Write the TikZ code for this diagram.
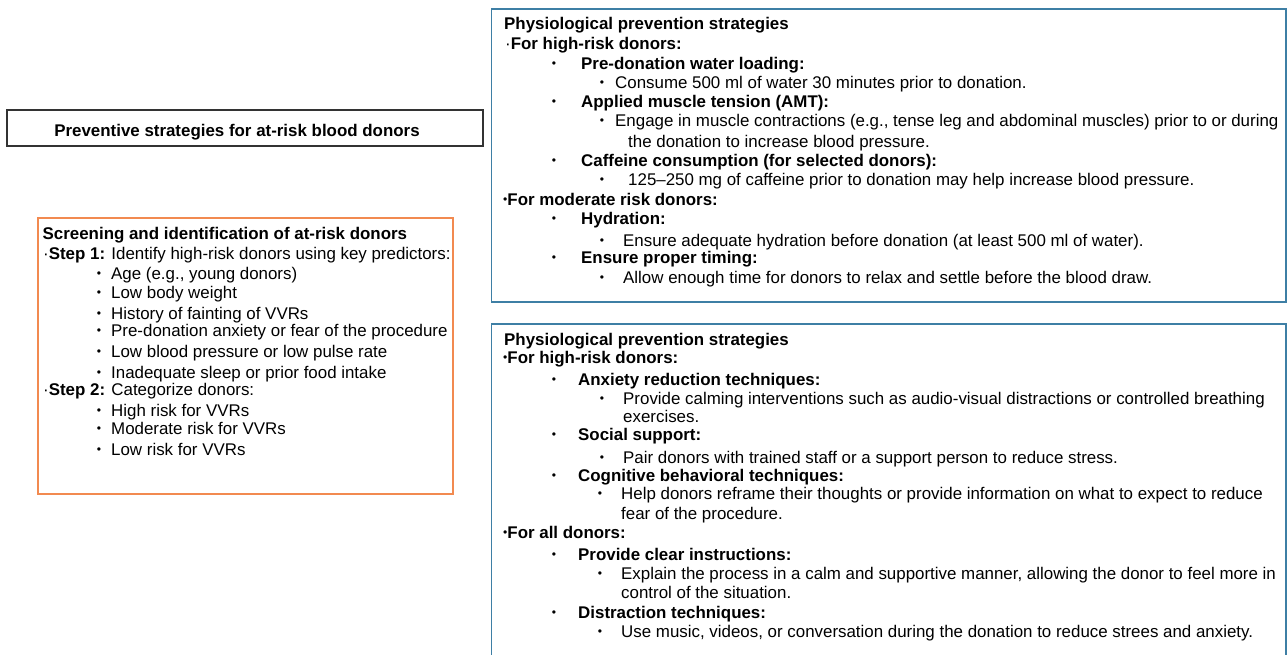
\documentclass[tikz,border=0pt]{standalone}
\usepackage{graphicx}
\usepackage{fontspec}
\setmainfont{Liberation Sans}

\definecolor{titlegray}{HTML}{333333}
\definecolor{riskorange}{HTML}{F28A50}
\definecolor{prevblue}{HTML}{3E7FA5}

\newcommand{\smallbul}{\raisebox{0.1em}{\scalebox{0.72}{\textbullet}}}
\newcommand{\bl}[1]{\llap{\smallbul\hspace{#1}}}

\begin{document}
\begin{tikzpicture}[x=1pt,y=-1pt,
  txt/.style={anchor=base west, inner sep=0pt, font=\fontsize{16.9}{20}\selectfont},
  frame/.style={line width=1.7pt}]

\useasboundingbox (0,0) rectangle (1287,654);

\draw [frame, draw=titlegray] (7,110) rectangle (483,146);
\node [txt, anchor=base] (title) at (237,136) {\textbf{Preventive strategies for at-risk blood donors}};

\draw [frame, draw=riskorange] (38,218) rectangle (453,494);
\node [txt] (scr) at (42.5,239) {\textbf{Screening and identification of at-risk donors}};
\node [txt] (step1) at (43,259) {\textperiodcentered\textbf{Step 1:} Identify high-risk donors using key predictors:};
\node [txt] (age) at (111,279) {\bl{10pt}Age (e.g., young donors)};
\node [txt] (weight) at (111,298) {\bl{10pt}Low body weight};
\node [txt] (history) at (111,319) {\bl{10pt}History of fainting of VVRs};
\node [txt] (anxiety) at (111,336) {\bl{10pt}Pre-donation anxiety or fear of the procedure};
\node [txt] (pressure) at (111,357) {\bl{10pt}Low blood pressure or low pulse rate};
\node [txt] (sleep) at (111,378) {\bl{10pt}Inadequate sleep or prior food intake};
\node [txt] (step2) at (43,395) {\textperiodcentered\textbf{Step 2:} Categorize donors:};
\node [txt] (high) at (111,416) {\bl{10pt}High risk for VVRs};
\node [txt] (moderate) at (111,434) {\bl{10pt}Moderate risk for VVRs};
\node [txt] (low) at (111,455) {\bl{10pt}Low risk for VVRs};

\draw [frame, draw=prevblue] (491.5,9) rectangle (1286,302);
\node [txt] (phys) at (504,29) {\textbf{Physiological prevention strategies}};
\node [txt] (phigh) at (505,49) {\textperiodcentered\textbf{For high-risk donors:}};
\node [txt] (water) at (581,69) {\bl{25pt}\textbf{Pre-donation water loading:}};
\node [txt] (consume) at (615,88) {\bl{11pt}Consume 500 ml of water 30 minutes prior to donation.};
\node [txt] (amt) at (581,107) {\bl{25pt}\textbf{Applied muscle tension (AMT):}};
\node [txt] (engage) at (615,126) {\bl{11pt}Engage in muscle contractions (e.g., tense leg and abdominal muscles) prior to or during};
\node [txt] (engage2) at (628,147.5) {the donation to increase blood pressure.};
\node [txt] (caff) at (581,166) {\bl{25pt}\textbf{Caffeine consumption (for selected donors):}};
\node [txt] (dose) at (628,185.5) {\bl{24pt}125–250 mg of caffeine prior to donation may help increase blood pressure.};
\node [txt] (pmod) at (503,205.5) {\smallbul\textbf{For moderate risk donors:}};
\node [txt] (hydr) at (581,224.5) {\bl{25pt}\textbf{Hydration:}};
\node [txt] (adequate) at (623,246) {\bl{19pt}Ensure adequate hydration before donation (at least 500 ml of water).};
\node [txt] (timing) at (581,263) {\bl{25pt}\textbf{Ensure proper timing:}};
\node [txt] (allow) at (623,283) {\bl{19pt}Allow enough time for donors to relax and settle before the blood draw.};

\draw [frame, draw=prevblue] (491.5,660) |- (1286,324) -- (1286,660);
\node [txt] (psy) at (504,345) {\textbf{Physiological prevention strategies}};
\node [txt] (shigh) at (503,363) {\smallbul\textbf{For high-risk donors:}};
\node [txt] (reduct) at (578,385) {\bl{22pt}\textbf{Anxiety reduction techniques:}};
\node [txt] (calm) at (623,404) {\bl{19pt}Provide calming interventions such as audio-visual distractions or controlled breathing};
\node [txt] (calm2) at (623,422) {exercises.};
\node [txt] (social) at (578,440) {\bl{22pt}\textbf{Social support:}};
\node [txt] (pair) at (623,463) {\bl{19pt}Pair donors with trained staff or a support person to reduce stress.};
\node [txt] (cogn) at (578,481) {\bl{22pt}\textbf{Cognitive behavioral techniques:}};
\node [txt] (reframe) at (621,499) {\bl{19pt}Help donors reframe their thoughts or provide information on what to expect to reduce};
\node [txt] (reframe2) at (621,519) {fear of the procedure.};
\node [txt] (sall) at (503,538) {\smallbul\textbf{For all donors:}};
\node [txt] (instr) at (578,560) {\bl{22pt}\textbf{Provide clear instructions:}};
\node [txt] (explain) at (621,579) {\bl{19pt}Explain the process in a calm and supportive manner, allowing the donor to feel more in};
\node [txt] (explain2) at (621,598) {control of the situation.};
\node [txt] (distr) at (578,618) {\bl{22pt}\textbf{Distraction techniques:}};
\node [txt] (music) at (621,637) {\bl{19pt}Use music, videos, or conversation during the donation to reduce strees and anxiety.};

\end{tikzpicture}
\end{document}
